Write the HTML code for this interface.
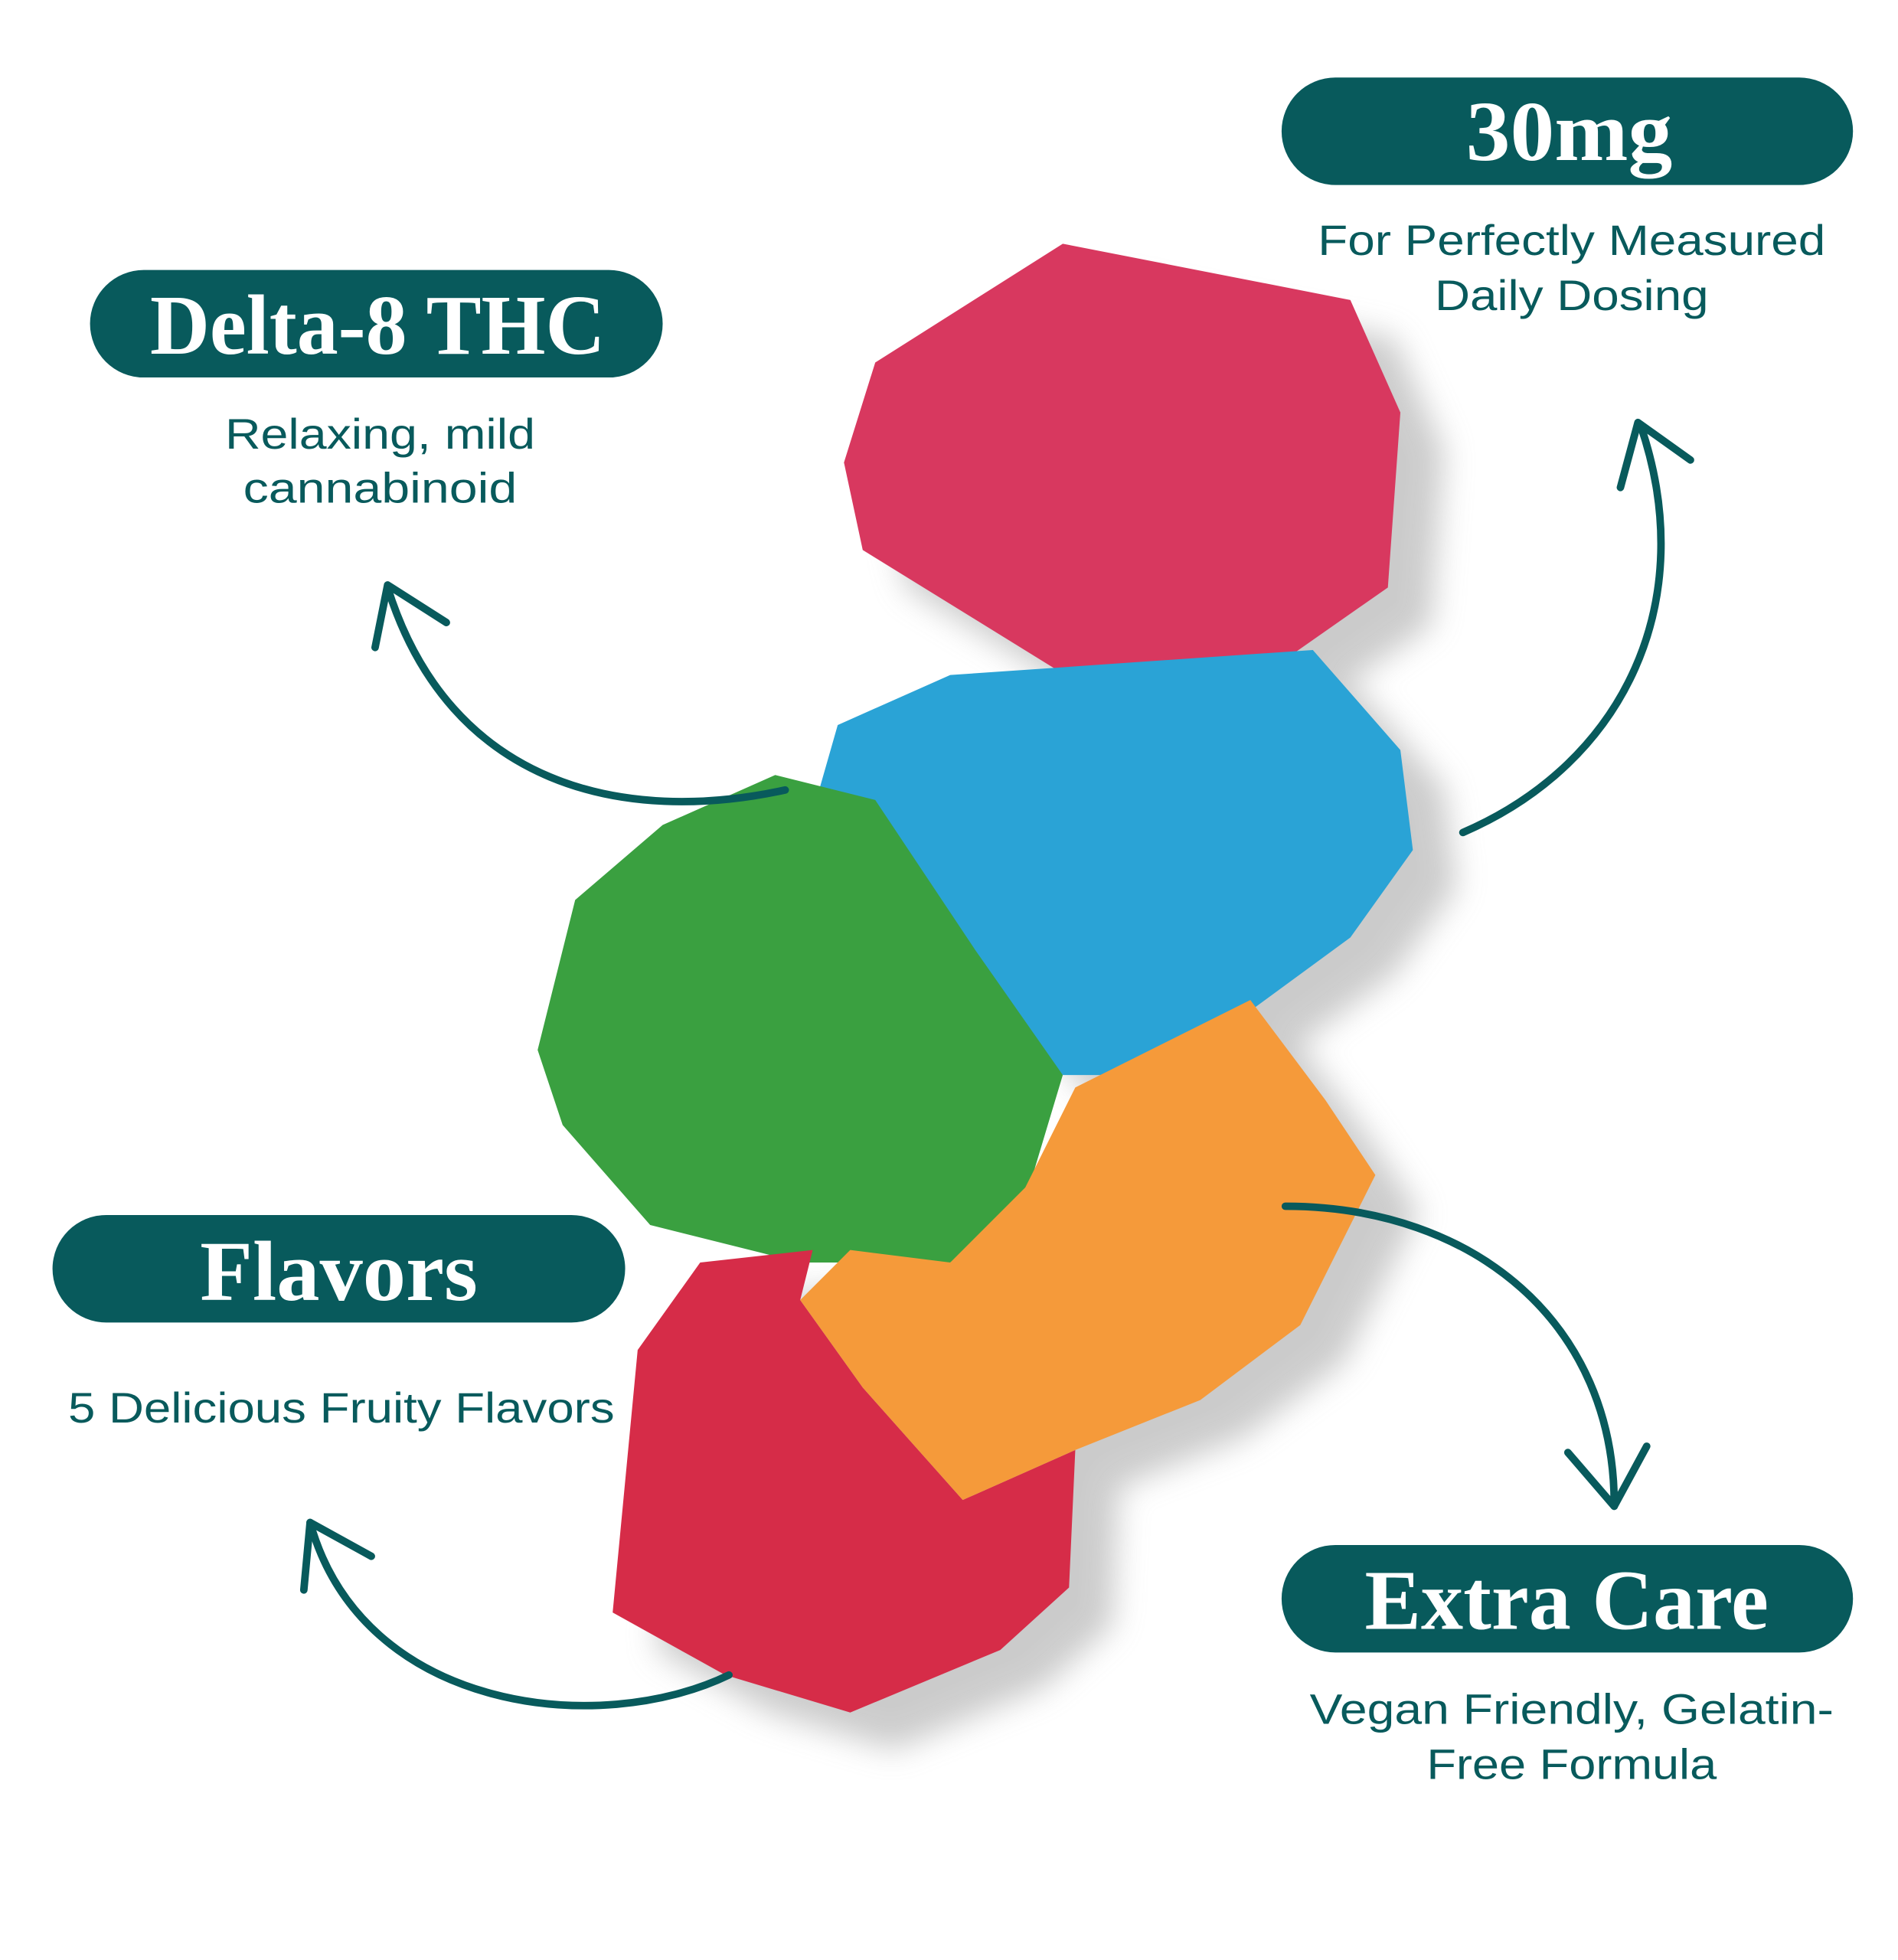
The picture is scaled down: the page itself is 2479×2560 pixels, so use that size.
<!DOCTYPE html>
<html><head><meta charset="utf-8"><style>
html,body{margin:0;padding:0;background:#fff;width:2479px;height:2560px;overflow:hidden}
svg{display:block}
.h{font-family:"Liberation Serif",serif;font-weight:bold;fill:#fff;text-anchor:middle}
.s{font-family:"Liberation Sans",sans-serif;fill:#085a5c;text-anchor:middle;font-size:34px}
.a{fill:none;stroke:#085a5c;stroke-width:6;stroke-linecap:round;stroke-linejoin:round}
</style></head><body>
<svg width="2479" height="2560" viewBox="0 0 1518 1568" preserveAspectRatio="none" xmlns="http://www.w3.org/2000/svg">
<defs><filter id="b" x="-20%" y="-20%" width="140%" height="140%"><feGaussianBlur stdDeviation="12"/></filter></defs>
<rect width="1518" height="1568" fill="#fff"/>
<g fill="#aaa" opacity="0.6" filter="url(#b)" transform="translate(35,30)">
<polygon points="675,370 700,290 850,195 1080,240 1120,330 1110,470 960,575 860,545 690,440"/>
<polygon points="650,650 670,580 760,540 1050,520 1120,600 1130,680 1080,750 930,860 850,860 780,780"/>
<polygon points="640,1040 680,1000 760,1010 820,950 860,870 1000,800 1060,880 1100,940 1040,1060 960,1120 860,1160 770,1200 690,1110"/>
<polygon points="490,1290 510,1080 560,1010 650,1000 640,1040 690,1110 770,1200 860,1160 855,1270 800,1320 680,1370 580,1340"/>
</g>
<polygon fill="#d8385f" points="675,370 700,290 850,195 1080,240 1120,330 1110,470 960,575 860,545 690,440"/>
<polygon fill="#2aa3d6" points="650,650 670,580 760,540 1050,520 1120,600 1130,680 1080,750 930,860 850,860 780,780"/>
<polygon fill="#3aa040" points="430,840 460,720 530,660 620,620 700,640 780,760 850,860 820,960 760,1010 640,1010 520,980 450,900"/>
<polygon fill="#d62c48" points="490,1290 510,1080 560,1010 650,1000 640,1040 690,1110 770,1200 860,1160 855,1270 800,1320 680,1370 580,1340"/>
<polygon fill="#f59a3a" points="640,1040 680,1000 760,1010 820,950 860,870 1000,800 1060,880 1100,940 1040,1060 960,1120 860,1160 770,1200 690,1110"/>
<rect x="1025" y="62" width="457" height="86" rx="43" fill="#085a5c"/>
<text class="h" x="1255" y="128" font-size="68" textLength="165" lengthAdjust="spacingAndGlyphs">30mg</text>
<rect x="72" y="216" width="458" height="86" rx="43" fill="#085a5c"/>
<text class="h" x="302" y="283" font-size="68" textLength="364" lengthAdjust="spacingAndGlyphs">Delta-8 THC</text>
<rect x="42" y="972" width="458" height="86" rx="43" fill="#085a5c"/>
<text class="h" x="271" y="1040" font-size="68" textLength="222" lengthAdjust="spacingAndGlyphs">Flavors</text>
<rect x="1025" y="1236" width="457" height="86" rx="43" fill="#085a5c"/>
<text class="h" x="1253" y="1303" font-size="68" textLength="323" lengthAdjust="spacingAndGlyphs">Extra Care</text>
<text class="s" x="1257" y="204" textLength="406" lengthAdjust="spacingAndGlyphs">For Perfectly Measured</text>
<text class="s" x="1257" y="248" textLength="219" lengthAdjust="spacingAndGlyphs">Daily Dosing</text>
<text class="s" x="304" y="359" textLength="248" lengthAdjust="spacingAndGlyphs">Relaxing, mild</text>
<text class="s" x="304" y="402" textLength="219" lengthAdjust="spacingAndGlyphs">cannabinoid</text>
<text class="s" x="273" y="1138" textLength="437" lengthAdjust="spacingAndGlyphs">5 Delicious Fruity Flavors</text>
<text class="s" x="1257" y="1379" textLength="419" lengthAdjust="spacingAndGlyphs">Vegan Friendly, Gelatin-</text>
<text class="s" x="1257" y="1423" textLength="232" lengthAdjust="spacingAndGlyphs">Free Formula</text>
<path class="a" d="M628,632 C500,660 360,630 310,470"/>
<path class="a" d="M300,518 L310,468 L357,498"/>
<path class="a" d="M1170,666 C1300,610 1360,480 1312,340"/>
<path class="a" d="M1296,390 L1310,338 L1352,368"/>
<path class="a" d="M1028,965 C1180,965 1292,1060 1291,1205"/>
<path class="a" d="M1254,1162 L1291,1205 L1317,1157"/>
<path class="a" d="M583,1340 C480,1390 290,1370 248,1218"/>
<path class="a" d="M243,1272 L248,1218 L297,1245"/>
</svg>
</body></html>
